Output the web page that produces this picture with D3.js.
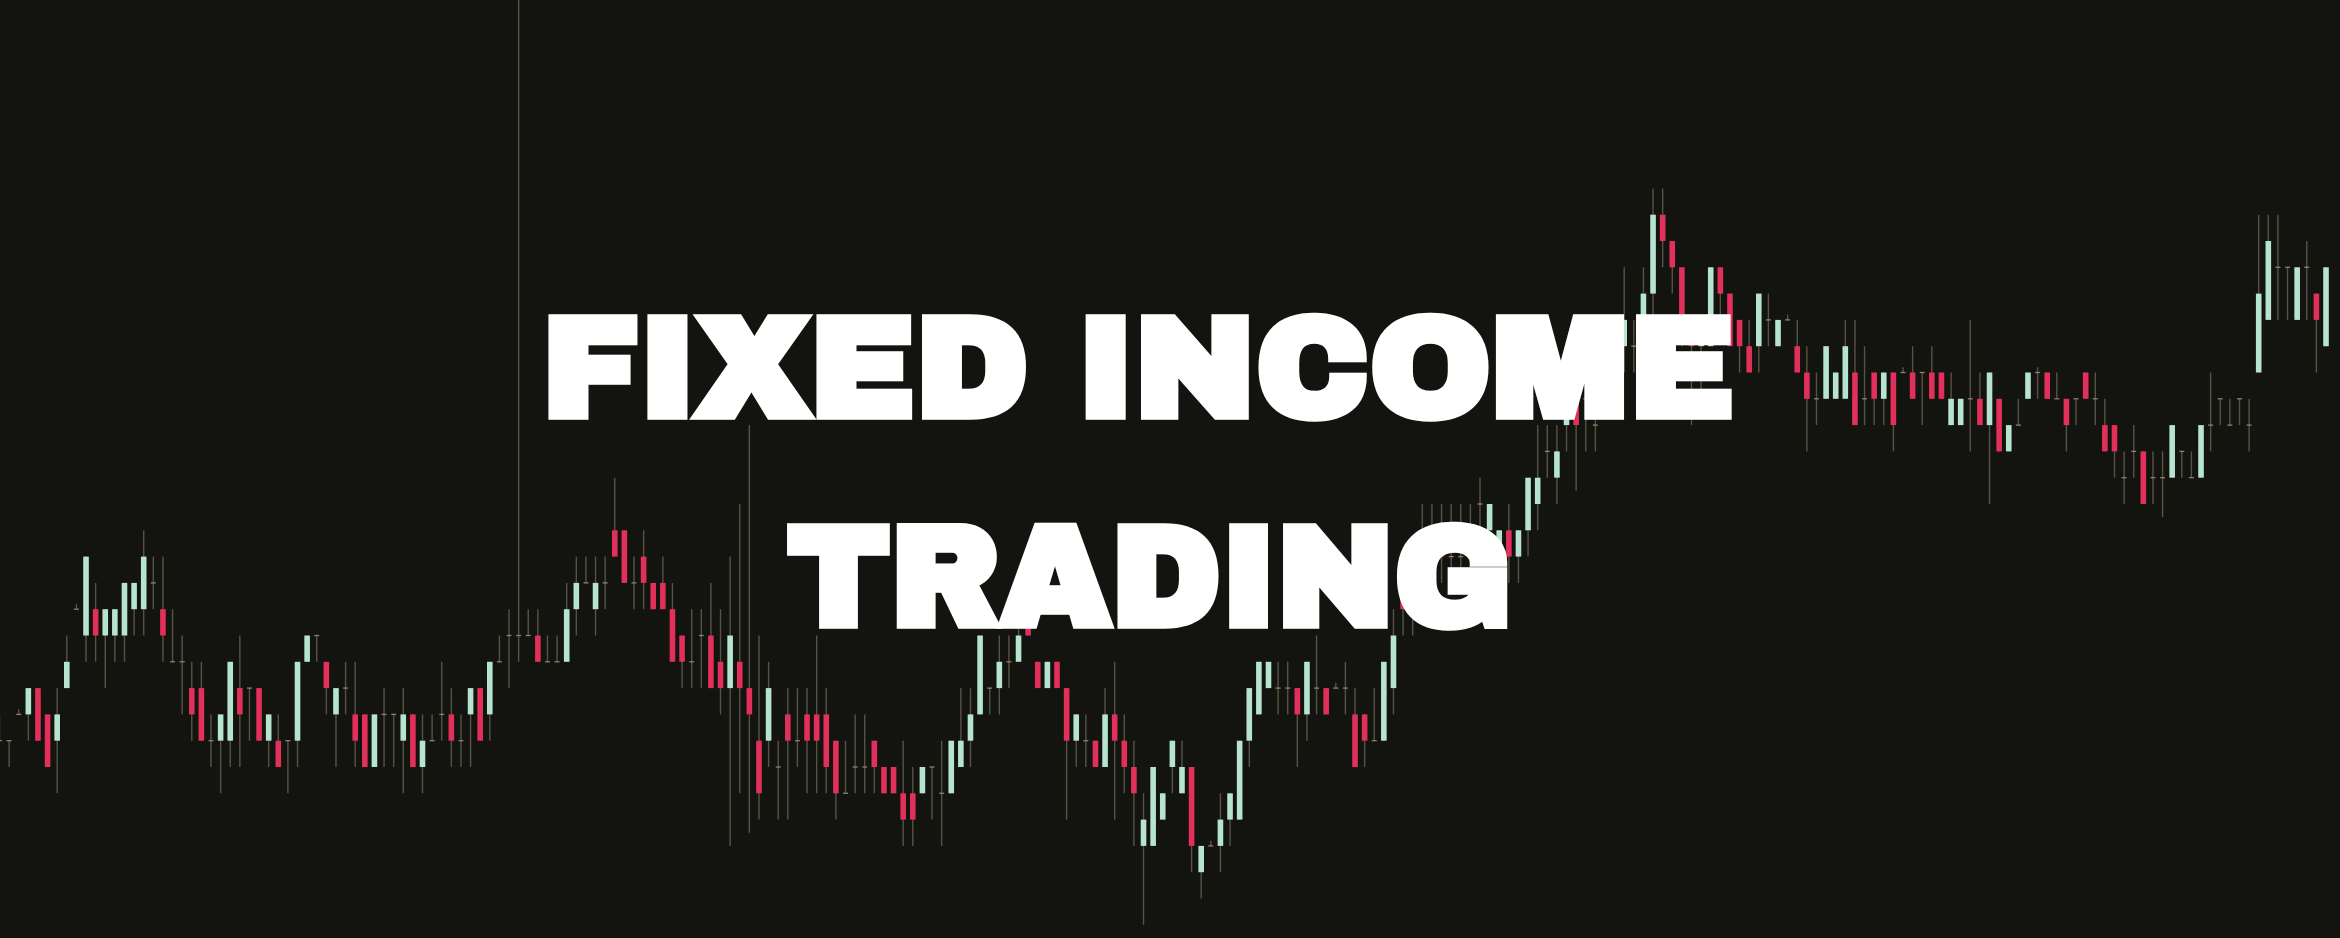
<!DOCTYPE html>
<html>
<head>
<meta charset="utf-8">
<script src="https://cdn.jsdelivr.net/npm/d3@7"></script>
<style>
  html, body { margin: 0; padding: 0; background: #13130f; }
  svg { display: block; }
</style>
</head>
<body>
<div class="chart"></div>
<script>
// price levels, one value per candle
var opens = [2,2,3,3,4,3,2,4,7,6, 7,6,6,6,7,7,8,7,5,5, 4,4,2,2,2,4,4,4,2,2,
    2,2,5,6,5,3,4,3,3,1, 3,3,2,3,1,2,3,3,2,3, 4,3,5,6,6,6,6,5,5,5,
    7,8,7,8,10,10,8,9,8,8, 7,6,5,6,6,5,4,5,4,2, 2,1,3,2,3,3,3,2,0,1,
    1,2,1,1,0,0,0,1,0,0, 1,2,3,4,4,5,5,7,5,4, 5,4,2,2,2,1,3,2,1,-2,
    -2,-1,1,0,1,-3,-2,-2,-1,-1, 2,3,4,4,4,4,3,4,4,4, 4,3,3,2,2,4,8,7,8,9,
    10,9,9,9,11,10,9,10,9,10, 11,13,12,14,16,15,14,16,16,17, 17,18,19,22,21,20,18,17,17,20,
    19,18,17,17,18,17,18,17,16,15, 15,15,15,16,15,16,15,16,16,16, 16,16,16,14,14,15,15,14,15,13,
    14,15,16,16,15,15,15,16,15,14, 14,12,13,13,12,12,12,13,12,12, 14,15,14,15,14,16,18,20,20,18,
    20,19,17];
var closes = [2,2,3,4,2,1,3,5,7,9, 6,7,7,8,8,9,8,6,5,5, 3,2,2,3,5,3,4,2,3,1,
    2,5,6,6,4,4,4,2,1,3, 3,3,3,1,2,2,3,2,2,4, 2,5,5,6,6,6,5,5,5,7,
    8,8,8,8,9,8,8,8,7,7, 5,5,5,6,4,4,6,4,3,0, 4,1,2,2,2,2,1,0,0,1,
    1,1,0,0,-1,-1,1,1,0,2, 2,3,6,4,5,5,6,6,4,5, 4,2,3,2,1,3,2,1,0,-1,
    1,0,2,1,-2,-2,-2,-1,0,2, 4,5,5,4,4,3,5,4,3,4, 4,1,2,2,5,6,7,8,9,9,
    9,9,9,10,11,11,10,9,10,12, 12,13,13,15,14,15,14,16,17,18, 17,19,22,21,20,18,17,18,20,19,
    17,17,16,19,18,18,18,16,15,15, 17,16,17,14,15,15,16,14,16,15, 16,15,15,15,15,15,14,16,13,14,
    14,16,16,15,15,14,15,15,15,13, 13,12,13,11,12,12,14,13,12,14, 14,15,14,15,14,19,21,20,20,20,
    20,18,20];
var highs = [3,2,3.2,4,4,3,4,6,7.2,9, 8,7,7,8,8,10,9,9,7,6, 5,5,3,3,5,6,4,4,3,3,
    2,5,6,6,5,4,5,5,3,3, 4,3,4,3,3,3,5,4,3,4, 4,5,6,7,31,7,7,6,6,8,
    9,9,9,9,12,10,9,10,8,9, 8,6,7,7,8,7,9,11,14,6, 5,2,4,4,4,6,4,2,2,3,
    3,2,1,1,2,1,1,1,2,2, 4,4,6,4,6,6,7,8,5,5, 5,4,3,3,2,4,5,3,2,0,
    1,0,2,2,1,-2,-1.8,0,0,2, 4,5,5,5,5,4,5,6,4,4.2, 5,4,3,4,5,7,9,8,11,11,
    11,11,11,11,12,11,10,11,10,12, 14,14,14,16,17,16,16,17,17,20, 18,20,23,23,21,20,18,18,20,20,
    19,18,18,19,19,18,18.2,18,17,16, 17,16,18,18,17,16,16,16,16.2,17, 16,17,16,16,15,18,16,16,15,14,
    15,16,16.2,16,16,15,15,16,16,15, 14,13,14,13,13,13,14,13,13,14, 16,15,15,15,15,22,22,22,20,20,
    21,19,20];
var lows = [2,1,3,2,2,1,0,4,7,5, 5,4,5,5,6,6,7,5,5,3, 2,2,1,0,1,1,2,2,1,1,
    0,1,5,5,3,1,3,1,1,1, 1,1,0,1,0,2,2,1,1,1, 2,2,5,4,5,6,5,5,5,5,
    6,8,6,7,9,8,7,7,7,7, 5,4,4,4,4,3,-2,0,-1.5,-1, 1,-1,-1,1,0,0,0,-1,0,0,
    0,0,0,0,-2,-2,0,-1,-2,0, 1,1,3,3,3,4,5,6,4,4, 4,-1,1,1,1,1,-1,0,-2,-5,
    -2,-1,0,0,-3,-4,-2,-3,-2,-1, 1,3,4,3,3,1,2,3,3,4, 3,1,1,2,2,3,6,6,7,8,
    8,8,8,8,10,10,9,8,8,9, 10,12,11,13,11.5,13,13,15,15,16, 16,16,18,20,19,17,14,15,17,18,
    17,16,16,16,17,17,18,16,13,14, 15,15,15,14,14,14,14,13,16,15, 14,15,15,14,14,13,14,11,13,13,
    14,15,15,15,15,13,14,15,14,13, 12,11,12,11,11,10.5,12,12,12,12, 13,14,14,14,13,16,18,18,18,18,
    18,16,17];

var width = 2340,
    height = 938;

var svg = d3.select(".chart").append("svg")
    .attr("width", width)
    .attr("height", height);

svg.append("rect")
    .attr("width", width)
    .attr("height", height)
    .attr("fill", "#13130f");

var x = d3.scaleLinear()
    .domain([0, opens.length - 1])
    .range([-0.5, 2326]);

// one level is ~26px on screen
var y = d3.scaleLinear()
    .domain([0, 10])
    .range([793.3, 530.3]);

var candles = d3.range(opens.length).map(function (i) {
    return {i: i, o: opens[i], c: closes[i], h: highs[i], l: lows[i]};
});

var bodyW = 5.6;

var g = svg.append("g");

// wicks
g.selectAll("line.wick")
    .data(candles)
    .enter().append("line")
    .attr("class", "wick")
    .attr("x1", function (d) { return x(d.i); })
    .attr("x2", function (d) { return x(d.i); })
    .attr("y1", function (d) { return y(d.h); })
    .attr("y2", function (d) { return y(d.l); })
    .attr("stroke", "#6f6a57")
    .attr("stroke-opacity", 0.75)
    .attr("stroke-width", 1.4);

// bodies
g.selectAll("rect.body")
    .data(candles.filter(function (d) { return d.o !== d.c; }))
    .enter().append("rect")
    .attr("class", "body")
    .attr("x", function (d) { return x(d.i) - bodyW / 2; })
    .attr("y", function (d) { return y(Math.max(d.o, d.c)); })
    .attr("width", bodyW)
    .attr("height", function (d) { return Math.abs(y(d.o) - y(d.c)); })
    .attr("fill", function (d) { return d.c > d.o ? "#b6e4d1" : "#e2305a"; });

// doji ticks, faint like the reference
g.selectAll("line.doji")
    .data(candles.filter(function (d) { return d.o === d.c; }))
    .enter().append("line")
    .attr("class", "doji")
    .attr("x1", function (d) { return x(d.i) - 2.5; })
    .attr("x2", function (d) { return x(d.i) + 2.5; })
    .attr("y1", function (d) { return y(d.o); })
    .attr("y2", function (d) { return y(d.o); })
    .attr("stroke", "#8a846d")
    .attr("stroke-width", 1.3);

// title
var title = [
    {text: "FIXED INCOME", x: 541.5, y: 415.5, len: 1193},
    {text: "TRADING", x: 787.5, y: 624.5, len: 725}
];

svg.selectAll("text.title")
    .data(title)
    .enter().append("text")
    .attr("class", "title")
    .attr("x", function (d) { return d.x; })
    .attr("y", function (d) { return d.y; })
    .attr("textLength", function (d) { return d.len; })
    .attr("lengthAdjust", "spacingAndGlyphs")
    .attr("font-family", "'Archivo Black', Roboto, Lato, Inter, 'DejaVu Sans', sans-serif")
    .attr("font-weight", 900)
    .attr("font-size", 142)
    .attr("fill", "#ffffff")
    .attr("stroke", "#ffffff")
    .attr("stroke-width", 3)
    .attr("stroke-linejoin", "miter")
    .text(function (d) { return d.text; });
</script>
</body>
</html>
